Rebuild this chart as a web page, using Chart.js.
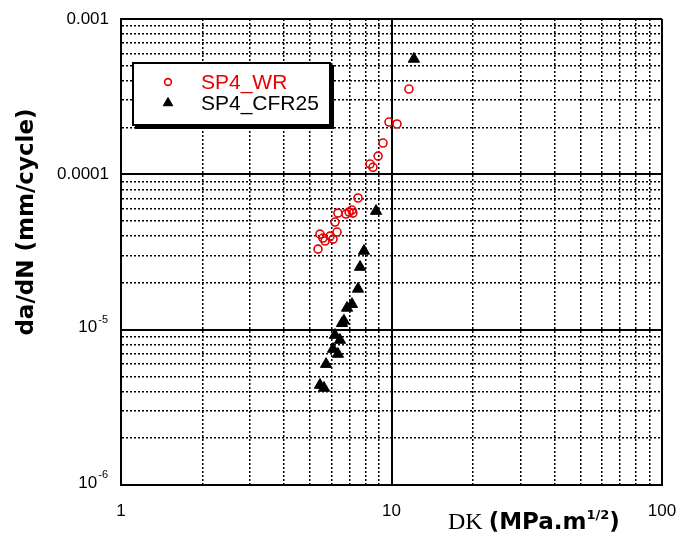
<!DOCTYPE html>
<html>
<head>
<meta charset="utf-8">
<script src="https://cdn.jsdelivr.net/npm/chart.js@4.4.0/dist/chart.umd.min.js"></script>
<style>
  html, body { margin: 0; padding: 0; background: #fff; }
  #wrap { width: 680px; height: 534px; }
</style>
</head>
<body>
<div id="wrap"><canvas id="chart"></canvas></div>
<script>
// SP4_WR (red open circles)
const wrDK = [5.35, 5.44, 5.58, 5.68, 5.93, 6.08, 6.29, 6.18, 6.34, 6.79, 6.97, 7.14, 7.20, 7.52, 8.33, 8.54, 8.92, 9.30, 9.79, 10.48, 11.6];
const wrRate = [3.30e-5, 4.12e-5, 3.89e-5, 3.72e-5, 4.0e-5, 3.83e-5, 4.25e-5, 4.93e-5, 5.63e-5, 5.55e-5, 5.72e-5, 5.89e-5, 5.63e-5, 7.04e-5, 1.165e-4, 1.11e-4, 1.31e-4, 1.59e-4, 2.17e-4, 2.11e-4, 3.54e-4];

// SP4_CFR25 (black triangles)
const cfrDK = [5.44, 5.63, 5.73, 6.08, 6.34, 6.18, 6.45, 6.56, 6.67, 6.85, 7.14, 7.52, 7.65, 7.91, 8.77, 12.1];
const cfrRate = [4.40e-6, 4.21e-6, 6.00e-6, 7.50e-6, 6.97e-6, 9.23e-6, 8.57e-6, 1.10e-5, 1.14e-5, 1.38e-5, 1.46e-5, 1.83e-5, 2.53e-5, 3.21e-5, 5.80e-5, 5.53e-4];

// tick labels (decades only); "base^exp" is drawn with a raised exponent
const xTickValues = [1, 10, 100];
const xTickLabels = ['1', '10', '100'];
const yTickValues = [1e-6, 1e-5, 1e-4, 1e-3];
const yTickLabels = ['10^-6', '10^-5', '0.0001', '0.001'];

const seriesNames = ['SP4_WR', 'SP4_CFR25'];

const tickFont = '"Liberation Sans", Arial, sans-serif';

function isDecade(v) {
  const l = Math.log10(v);
  return Math.abs(l - Math.round(l)) < 1e-6;
}

// gridline values 1..9 x 10^n between the axis limits
function logGrid(fromExp, toExp) {
  const out = [];
  for (let e = fromExp; e < toExp; e++) {
    for (let m = 1; m <= 9; m++) out.push(Number((m * Math.pow(10, e)).toPrecision(3)));
  }
  out.push(Math.pow(10, toExp));
  return out;
}

function labelFor(values, labels, v) {
  const i = values.findIndex(t => Math.abs(Math.log10(t) - Math.log10(v)) < 1e-6);
  return i >= 0 ? labels[i] : '';
}

const toPoints = (xs, ys) => xs.map((x, i) => ({ x: x, y: ys[i] }));

const gridOpts = {
  color: '#000',
  lineWidth: (c) => (c.tick && isDecade(c.tick.value)) ? 2 : 1.5,
  drawTicks: false
};
const borderOpts = {
  display: true,
  color: '#000',
  width: 2,
  dash: (c) => (c.tick && !isDecade(c.tick.value)) ? [2, 2] : []
};

// legend box, axis titles, power-of-ten tick labels
const decor = {
  id: 'decor',
  afterDraw(chart) {
    const ctx = chart.ctx;
    const a = chart.chartArea;
    const ds = chart.data.datasets;

    // y labels written as powers of ten
    const ys = chart.scales.y;
    ctx.save();
    ctx.fillStyle = '#000';
    ctx.textAlign = 'left';
    ctx.textBaseline = 'middle';
    yTickValues.forEach((v, i) => {
      const lab = yTickLabels[i];
      if (lab.indexOf('^') < 0) return;
      const [b, e] = lab.split('^');
      const py = ys.getPixelForValue(v);
      ctx.font = '17px ' + tickFont;
      const bw = ctx.measureText(b).width;
      ctx.font = '11px ' + tickFont;
      const ew = ctx.measureText(e).width;
      const x0 = a.left - 14 - bw - ew;
      ctx.font = '17px ' + tickFont;
      ctx.fillText(b, x0, py - 2);
      ctx.font = '11px ' + tickFont;
      ctx.fillText(e, x0 + bw + 1, py - 10);
    });
    ctx.restore();

    // legend
    const lx = a.left + 12, ly = a.top + 44, lw = 197, lh = 62;
    ctx.save();
    ctx.fillStyle = '#000';
    ctx.fillRect(lx + 2, ly + 2, lw + 2, lh + 2);
    ctx.fillStyle = '#fff';
    ctx.fillRect(lx, ly, lw, lh);
    ctx.strokeStyle = '#000';
    ctx.lineWidth = 2;
    ctx.strokeRect(lx, ly, lw, lh);

    ctx.font = '21px ' + tickFont;
    ctx.textBaseline = 'middle';
    ctx.textAlign = 'left';
    const rows = [ly + 19, ly + 40];
    ds.forEach((d, i) => {
      ctx.fillStyle = d.backgroundColor;
      ctx.strokeStyle = d.borderColor;
      ctx.lineWidth = d.borderWidth;
      Chart.helpers.drawPoint(ctx, {
        pointStyle: d.pointStyle,
        radius: i === 0 ? 3.4 : 5.5,
        borderWidth: d.borderWidth,
        rotation: 0
      }, lx + 35, rows[i]);
      ctx.fillStyle = d.legendTextColor;
      ctx.fillText(d.label, lx + 68, rows[i] + 1);
    });
    ctx.restore();

    // y title
    ctx.save();
    ctx.translate(27, 222);
    ctx.rotate(-Math.PI / 2);
    ctx.font = 'bold 23px "DejaVu Sans", sans-serif';
    ctx.fillStyle = '#000';
    ctx.textAlign = 'center';
    ctx.textBaseline = 'middle';
    ctx.fillText('da/dN (mm/cycle)', 0, 0);
    ctx.restore();

    // x title: DK (MPa.m^1/2)
    ctx.save();
    ctx.fillStyle = '#000';
    ctx.textBaseline = 'alphabetic';
    ctx.textAlign = 'left';
    let x = 448;
    const base = 529;
    ctx.font = '24px "Liberation Serif", serif';
    ctx.fillText('DK ', x, base);
    x += ctx.measureText('DK ').width;
    ctx.font = 'bold 23px "DejaVu Sans", sans-serif';
    ctx.fillText('(MPa.m', x, base);
    x += ctx.measureText('(MPa.m').width;
    ctx.font = 'bold 13px "DejaVu Sans", sans-serif';
    ctx.fillText('1/2', x, base - 10);
    x += ctx.measureText('1/2').width;
    ctx.font = 'bold 23px "DejaVu Sans", sans-serif';
    ctx.fillText(')', x, base);
    ctx.restore();
  }
};

new Chart(document.getElementById('chart'), {
  type: 'scatter',
  data: {
    datasets: [
      {
        label: seriesNames[0],
        data: toPoints(wrDK, wrRate),
        pointStyle: 'circle',
        pointRadius: 4,
        borderWidth: 1.6,
        borderColor: '#e60000',
        backgroundColor: 'rgba(255,255,255,0)',
        legendTextColor: '#e60000'
      },
      {
        label: seriesNames[1],
        data: toPoints(cfrDK, cfrRate),
        pointStyle: 'triangle',
        pointRadius: 6.5,
        borderWidth: 1,
        borderColor: '#000',
        backgroundColor: '#000',
        legendTextColor: '#000'
      }
    ]
  },
  options: {
    responsive: true,
    maintainAspectRatio: false,
    animation: false,
    layout: { padding: { top: 19, right: 18, left: 0, bottom: 0 } },
    plugins: {
      legend: { display: false },
      tooltip: { enabled: false }
    },
    scales: {
      x: {
        type: 'logarithmic',
        min: 1,
        max: 100,
        afterBuildTicks: (s) => { s.ticks = logGrid(0, 2).map(v => ({ value: v })); },
        afterFit: (s) => { s.height = 49; s.paddingLeft = 0; s.paddingRight = 0; },
        grid: gridOpts,
        border: borderOpts,
        ticks: {
          autoSkip: false,
          maxRotation: 0,
          padding: 16,
          color: '#000',
          font: { family: tickFont, size: 17 },
          callback: (v) => labelFor(xTickValues, xTickLabels, v)
        }
      },
      y: {
        type: 'logarithmic',
        min: 1e-6,
        max: 1e-3,
        afterBuildTicks: (s) => { s.ticks = logGrid(-6, -3).map(v => ({ value: v })); },
        afterFit: (s) => { s.width = 121; s.paddingTop = 0; s.paddingBottom = 0; },
        grid: gridOpts,
        border: borderOpts,
        ticks: {
          autoSkip: false,
          padding: 12,
          color: '#000',
          font: { family: tickFont, size: 17 },
          // powers of ten are drawn by the decor plugin
          callback: (v) => {
            const s = labelFor(yTickValues, yTickLabels, v);
            return s.indexOf('^') >= 0 ? '' : s;
          }
        }
      }
    }
  },
  plugins: [decor]
});
</script>
</body>
</html>
